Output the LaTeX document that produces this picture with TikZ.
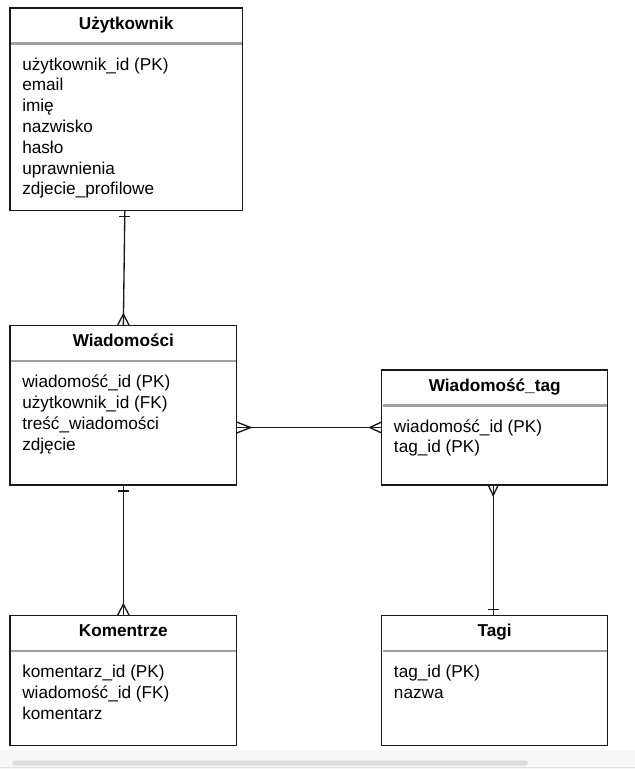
\documentclass[tikz,border=0pt]{standalone}
\usepackage{fontspec}
\setmainfont{Liberation Sans}
\usetikzlibrary{calc}

\definecolor{sepgray}{RGB}{160,160,160}
\definecolor{barbg}{RGB}{248,248,248}
\definecolor{barthumb}{RGB}{220,220,220}
\definecolor{barline}{RGB}{225,225,225}

\tikzset{
  entity/.style={draw=black!90, line width=1.15pt, fill=white, inner sep=0pt, outer sep=0pt, anchor=north west},
  etitle/.style={font=\fontsize{12.9pt}{15pt}\selectfont\bfseries, anchor=base, inner sep=0pt},
  attr/.style={font=\fontsize{12.9pt}{15pt}\selectfont, anchor=base west, inner sep=0pt},
  sepline/.style={draw=sepgray, line width=1.7pt},
  conn/.style={draw=black!90, line width=1pt},
}

% one table: name, top-left corner, width, height, title, attribute list
\newcommand{\erentity}[7]{%
  \node[entity, minimum width=#4*0.75pt, minimum height=#5*0.75pt] (#1) at (#2,#3) {};
  \node[etitle] (#1-title) at ($(#1.north)+(0,21)$) {#6};
  \draw[sepline] ($(#1.north west)+(0.8,35.5)$) -- ($(#1.north east)+(-0.8,35.5)$);
  \foreach \t [count=\i] in {#7}
    \node[attr] (#1-a\i) at ($(#1.north west)+(12,41.2+20.8*\i)$) {\t};
}

\begin{document}
\begin{tikzpicture}[x=0.75pt,y=-0.75pt]
  \useasboundingbox (0,0) rectangle (635,769);
  \fill[white] (0,0) rectangle (635,769);

  % window scrollbar along the bottom edge
  \fill[barbg] (0,750) rectangle (635,769);
  \fill[barthumb, rounded corners=2pt] (12,760.5) rectangle (528,765.5);
  \draw[barline, line width=0.75pt] (0,767.5) -- (635,767.5);

  % tables
  \erentity{u}{10}{8}{232.3}{202.7}{Użytkownik}{u\.zytkownik\_id (PK),email,imię,nazwisko,hasło,uprawnienia,zdjecie\_profilowe}
  \erentity{w}{10}{325.7}{226.7}{159.3}{Wiadomości}{wiadomość\_id (PK),użytkownik\_id (FK),treść\_wiadomości,zdjęcie}
  \erentity{wt}{381.7}{370}{226}{115}{Wiadomość\_tag}{wiadomość\_id (PK),tag\_id (PK)}
  \erentity{k}{10}{615.7}{226.7}{130}{Komentrze}{komentarz\_id (PK),wiadomość\_id (FK),komentarz}
  \erentity{t}{381.7}{615.7}{226}{130}{Tagi}{tag\_id (PK),nazwa}

  % Użytkownik (one) -- Wiadomości (many)
  \draw[conn] ($(u.south)+(-1.3,0)$) coordinate (c1a) -- (w.north) coordinate (c1b);
  \draw[conn] ($(c1a)+(-5.5,6)$) -- ($(c1a)+(5.5,6)$);
  \draw[conn] ($(c1b)+(-6,0)$) -- ($(c1b)+(0,-11.5)$) -- ($(c1b)+(6,0)$);

  % Wiadomości (one) -- Komentrze (many)
  \draw[conn] (w.south) coordinate (c2a) -- (k.north) coordinate (c2b);
  \draw[conn] ($(c2a)+(-5.5,6)$) -- ($(c2a)+(5.5,6)$);
  \draw[conn] ($(c2b)+(-6,0)$) -- ($(c2b)+(0,-11.5)$) -- ($(c2b)+(6,0)$);

  % Wiadomości (many) -- Wiadomość_tag (many)
  \draw[conn] (w.east |- wt.west) coordinate (c3a) -- (wt.west) coordinate (c3b);
  \draw[conn] ($(c3a)+(0,-5.5)$) -- ($(c3a)+(14,0)$) -- ($(c3a)+(0,5.5)$);
  \draw[conn] ($(c3b)+(0,-5.5)$) -- ($(c3b)+(-12,0)$) -- ($(c3b)+(0,5.5)$);

  % Wiadomość_tag (many) -- Tagi (one)
  \draw[conn] ($(wt.south)+(-1.5,0)$) coordinate (c4a) -- (c4a |- t.north) coordinate (c4b);
  \draw[conn] ($(c4a)+(-5,0)$) -- ($(c4a)+(0,10.5)$) -- ($(c4a)+(5,0)$);
  \draw[conn] ($(c4b)+(-5.5,-6.5)$) -- ($(c4b)+(5.5,-6.5)$);
\end{tikzpicture}
\end{document}
